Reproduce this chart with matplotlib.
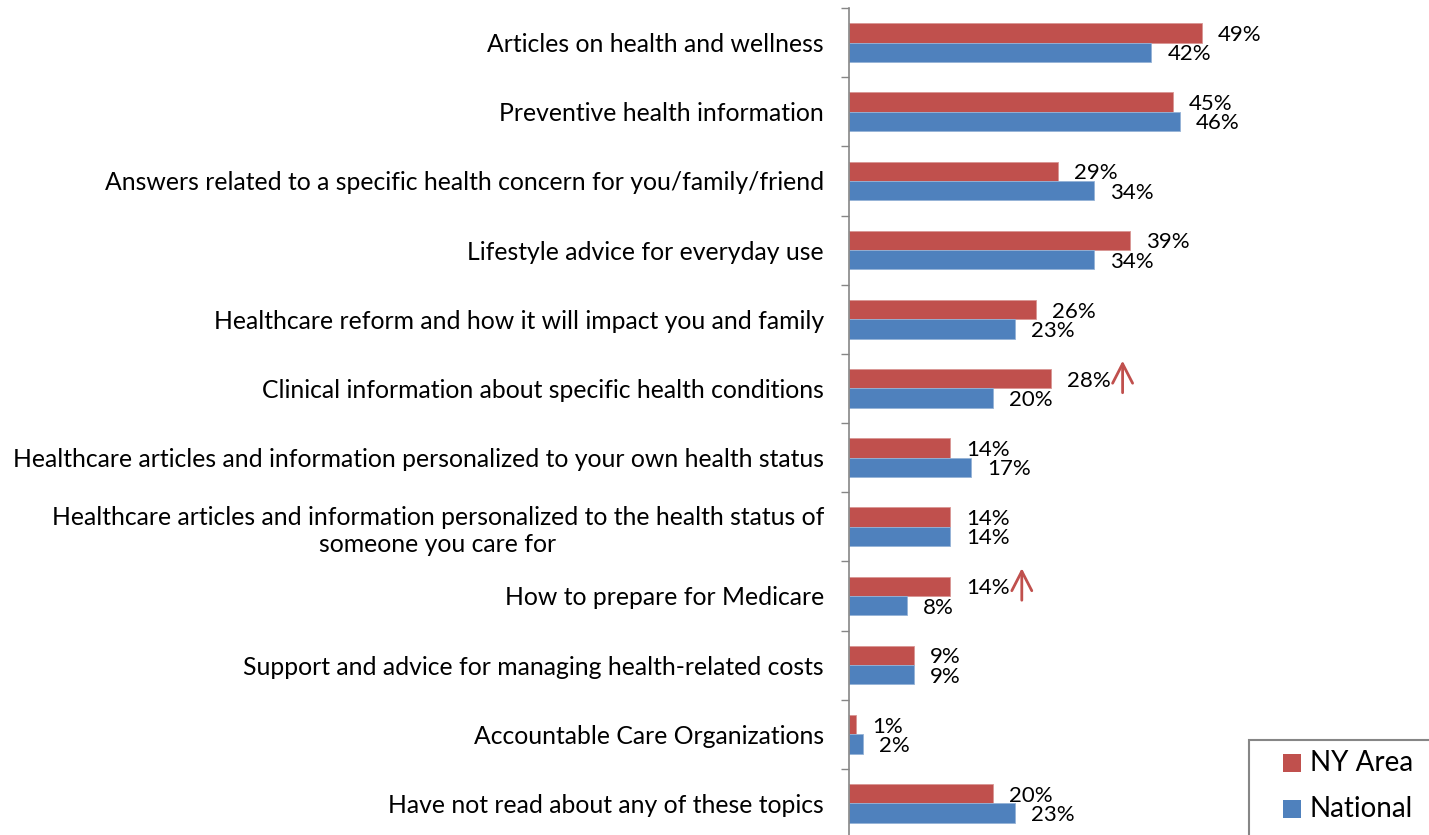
import matplotlib.pyplot as plt
from matplotlib.patches import Rectangle
from matplotlib import transforms
import numpy as np

plt.rcParams['font.family'] = ['Lato', 'DejaVu Sans']

# Data
categories = [
    "Articles on health and wellness",
    "Preventive health information",
    "Answers related to a specific health concern for you/family/friend",
    "Lifestyle advice for everyday use",
    "Healthcare reform and how it will impact you and family",
    "Clinical information about specific health conditions",
    "Healthcare articles and information personalized to your own health status",
    "Healthcare articles and information personalized to the health status of\nsomeone you care for",
    "How to prepare for Medicare",
    "Support and advice for managing health-related costs",
    "Accountable Care Organizations",
    "Have not read about any of these topics",
]
ny_area = [49, 45, 29, 39, 26, 28, 14, 14, 14, 9, 1, 20]
national = [42, 46, 34, 34, 23, 20, 17, 14, 8, 9, 2, 23]
series_names = ["NY Area", "National"]
# categories flagged with a significance arrow (NY Area higher)
flagged = ["Clinical information about specific health conditions",
           "How to prepare for Medicare"]

red = "#C0504D"
blue = "#4F81BD"
W, H = 1429, 835

fig = plt.figure(figsize=(W / 100, H / 100), dpi=100)
ax = fig.add_axes([849 / W, -3 / H, (W - 849) / W, 830 / H])

y = np.arange(len(categories))
h = 0.28
ax.barh(y - h / 2, ny_area, height=h, color=red, edgecolor="#D99694", linewidth=0.6)
ax.barh(y + h / 2, national, height=h, color=blue, edgecolor="#95B3D7", linewidth=0.6)

ax.set_xlim(0, (W - 849) / 7.2)
ax.set_ylim(len(categories) - 0.5, -0.5)

# value labels
for i in range(len(categories)):
    ax.annotate(f"{ny_area[i]}%", xy=(ny_area[i], i - h / 2), xytext=(16, -2),
                textcoords="offset pixels", va="center", ha="left", fontsize=16)
    ax.annotate(f"{national[i]}%", xy=(national[i], i + h / 2), xytext=(16, -2),
                textcoords="offset pixels", va="center", ha="left", fontsize=16)

# significance arrows
for name in flagged:
    i = categories.index(name)
    tip = transforms.offset_copy(ax.transData, fig=fig, x=72, y=18, units="dots")
    ax.annotate("", xy=(ny_area[i], i - h / 2), xycoords=tip,
                xytext=(0, -32), textcoords="offset pixels",
                arrowprops=dict(arrowstyle="->,head_length=1.4,head_width=0.72",
                                color=red, lw=2, shrinkA=0, shrinkB=0))

# axes styling
ax.set_yticks(y)
ax.set_yticklabels(categories, fontsize=17.8, multialignment="center",
                   linespacing=1.2)
ax.tick_params(axis="y", which="major", length=0, pad=18)
ax.set_yticks(np.arange(-0.5, len(categories) + 0.5, 1), minor=True)
ax.tick_params(axis="y", which="minor", length=6, color="#868686", width=1)
ax.set_xticks([])
for s in ["top", "right", "bottom"]:
    ax.spines[s].set_visible(False)
ax.spines["left"].set_color("#868686")
ax.spines["left"].set_linewidth(1.2)

# legend box (clipped at the figure edge like the original)
px = lambda x, yy: (x / W, 1 - yy / H)
fig.add_artist(Rectangle(px(1249, 860), 220 / W, 120 / H, transform=fig.transFigure,
                         facecolor="white", edgecolor="#868686", linewidth=1.5))
for name, col, yc in zip(series_names, [red, blue], [763, 809]):
    fig.add_artist(Rectangle(px(1283, yc + 9), 18 / W, 18 / H,
                             transform=fig.transFigure, facecolor=col, edgecolor="none"))
    fig.text(*px(1310, yc), name, fontsize=20, va="center", ha="left")

fig.savefig("out.png", dpi=100)
